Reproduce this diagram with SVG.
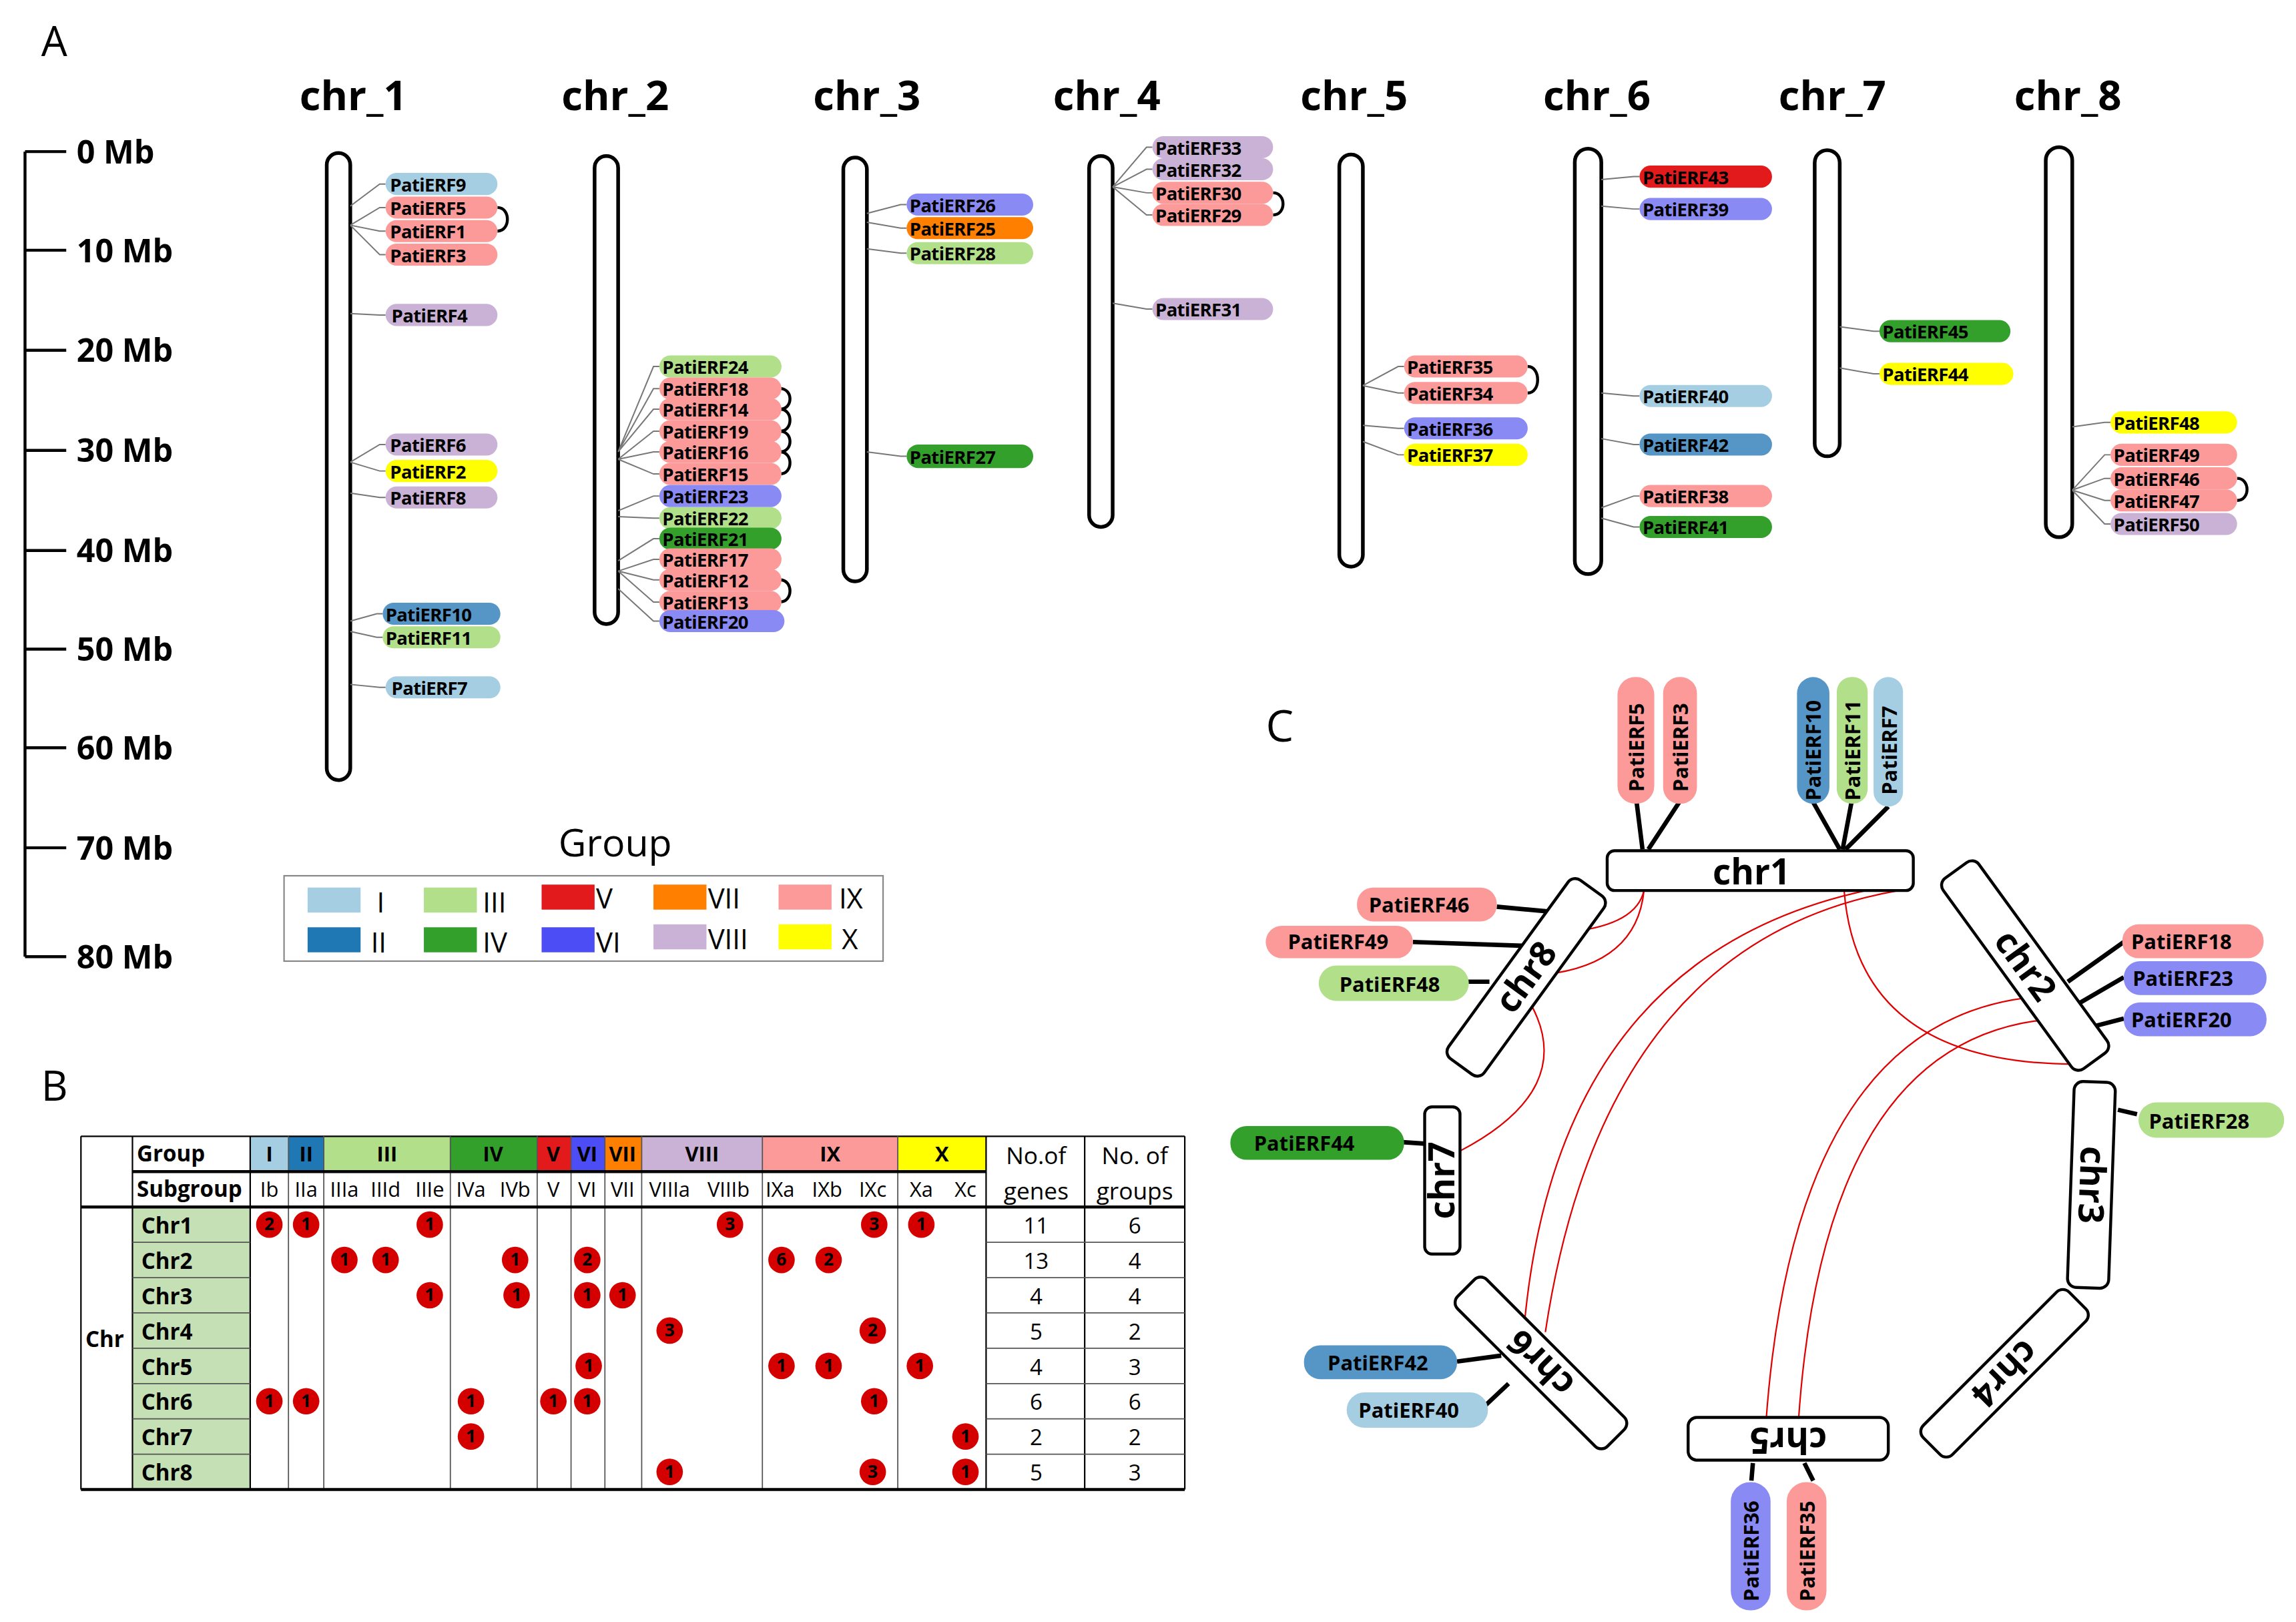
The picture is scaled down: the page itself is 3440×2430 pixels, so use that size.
<svg xmlns="http://www.w3.org/2000/svg" width="3440" height="2430" viewBox="0 0 3440 2430">
<style>
text{font-family:"Open Sans","Liberation Sans",sans-serif;fill:#000}
.b{font-weight:bold}
.chrA{fill:#fff;stroke:#000;stroke-width:2.5}
.pill text,.pt{font-weight:bold;font-size:12.5px;letter-spacing:-0.3px}
.ln{fill:none;stroke:#777;stroke-width:0.9}
.arc{fill:none;stroke:#000;stroke-width:2}
.I{fill:#a6cee3}.II{fill:#5596c6}.III{fill:#b2df8a}.IV{fill:#33a02c}.V{fill:#e31a1c}.VI{fill:#8a8af5}.VII{fill:#ff7f00}.VIII{fill:#cab2d6}.IX{fill:#fb9a99}.X{fill:#ffff00}
.tl{stroke:#000;stroke-width:1;fill:none}
.tg{stroke:#555;stroke-width:0.8;fill:none}
.dot{fill:#d40000}
.dn{fill:#fff;font-weight:bold;font-size:12px;text-anchor:middle}
.tc{font-size:15px;text-anchor:middle}
.cbox{fill:#fff;stroke:#000;stroke-width:2}
.cl{font-weight:bold;font-size:24px;text-anchor:middle}
.red{fill:none;stroke:#e00000;stroke-width:1}
.bk{stroke:#000;stroke-width:3;fill:none}
.cp{font-weight:bold;font-size:14px}
</style>
<rect width="3440" height="2430" fill="#fff"/>
<g transform="scale(2.2051)">
<!-- Panel A -->
<g id="panelA">
<text x="28" y="38" font-size="28">A</text>
<g id="scalebar">
<path d="M17,103 V650 M17,103 H45 M17,170 H45 M17,238 H45 M17,306 H45 M17,374 H45 M17,441 H45 M17,508 H45 M17,576 H45 M17,650 H45" stroke="#000" stroke-width="2" fill="none"/>
<g class="b" font-size="22">
<text x="52" y="111">0 Mb</text><text x="52" y="178">10 Mb</text><text x="52" y="246">20 Mb</text><text x="52" y="314">30 Mb</text><text x="52" y="382">40 Mb</text><text x="52" y="449">50 Mb</text><text x="52" y="516">60 Mb</text><text x="52" y="584">70 Mb</text><text x="52" y="658">80 Mb</text>
</g>
</g>
<g class="b" font-size="28" text-anchor="middle">
<text x="240" y="75">chr_1</text><text x="418" y="75">chr_2</text><text x="589" y="75">chr_3</text><text x="752" y="75">chr_4</text><text x="920" y="75">chr_5</text><text x="1085" y="75">chr_6</text><text x="1245" y="75">chr_7</text><text x="1405" y="75">chr_8</text>
</g>
<g id="chromosomesA">
<rect id="chr_1" class="chrA" x="222" y="104" width="16" height="426" rx="8"/>
<rect id="chr_2" class="chrA" x="404" y="106" width="16" height="318" rx="8"/>
<rect id="chr_3" class="chrA" x="573" y="107" width="16" height="288" rx="8"/>
<rect id="chr_4" class="chrA" x="740" y="106" width="16" height="252" rx="8"/>
<rect id="chr_5" class="chrA" x="910" y="105" width="16" height="280" rx="8"/>
<rect id="chr_6" class="chrA" x="1070" y="101" width="18" height="289" rx="9"/>
<rect id="chr_7" class="chrA" x="1233" y="102" width="17" height="208" rx="8.5"/>
<rect id="chr_8" class="chrA" x="1390" y="100" width="18" height="265" rx="9"/>
</g>
<g id="connectorsA">
<!-- chr1 -->
<path class="ln" d="M238,140 L258,125 H262 M238,153 L258,141 H262 M238,153 L258,157 H262 M238,153 L258,173 H262 M238,213 L258,214 H262 M238,314 L258,302 H262 M238,314 L258,320 H262 M238,335 L258,338 H262 M238,422 L256,417 H260 M238,429 L256,433 H260 M238,465 L258,467 H262"/>
<!-- chr2 -->
<path class="ln" d="M420,307 L444,249 H448 M420,307 L444,264 H448 M420,307 L444,278 H448 M420,312 L444,293 H448 M420,312 L444,307 H448 M420,312 L444,322 H448 M420,347 L444,337 H448 M420,351 L444,352 H448 M420,381 L444,366 H448 M420,388 L444,380 H448 M420,388 L444,394 H448 M420,388 L444,409 H448 M420,400 L444,422 H448"/>
<!-- chr3 -->
<path class="ln" d="M589,145 L612,139 H616 M589,151 L612,155 H616 M589,169 L612,172 H616 M589,307 L612,310 H616"/>
<!-- chr4 -->
<path class="ln" d="M756,127 L779,100 H783 M756,127 L779,115 H783 M756,127 L779,131 H783 M756,127 L779,146 H783 M756,206 L779,210 H783"/>
<!-- chr5 -->
<path class="ln" d="M926,262 L950,249 H954 M926,262 L950,267 H954 M926,289 L950,291 H954 M926,300 L950,309 H954"/>
<!-- chr6 -->
<path class="ln" d="M1088,122 L1110,120 H1114 M1088,140 L1110,142 H1114 M1088,267 L1110,269 H1114 M1088,298 L1110,302 H1114 M1088,345 L1110,337 H1114 M1088,352 L1110,358 H1114"/>
<!-- chr7 -->
<path class="ln" d="M1250,222 L1273,225 H1277 M1250,250 L1273,254 H1277"/>
<!-- chr8 -->
<path class="ln" d="M1408,290 L1430,287 H1434 M1408,333 L1430,309 H1434 M1408,333 L1430,325 H1434 M1408,333 L1430,340 H1434 M1408,333 L1430,356 H1434"/>
<!-- duplication arcs -->
<path class="arc" d="M338,141 C347,141 347,157 338,157 M530,264 C539,264 539,278 530,278 M530,278 C539,278 539,293 530,293 M530,293 C539,293 539,307 530,307 M530,307 C539,307 539,322 530,322 M530,394 C539,394 539,409 530,409 M865,131 C874,131 874,146 865,146 M1038,249 C1047,249 1047,267 1038,267 M1520,325 C1529,325 1529,340 1520,340"/>
</g>
<g id="genesA" class="pill">
<g id="a-PatiERF9"><rect class="I" x="262" y="117.5" width="76" height="15" rx="7.5"/><text x="265" y="130">PatiERF9</text></g>
<g id="a-PatiERF5"><rect class="IX" x="262" y="133.5" width="76" height="15" rx="7.5"/><text x="265" y="146">PatiERF5</text></g>
<g id="a-PatiERF1"><rect class="IX" x="262" y="149.5" width="76" height="15" rx="7.5"/><text x="265" y="162">PatiERF1</text></g>
<g id="a-PatiERF3"><rect class="IX" x="262" y="165.5" width="76" height="15" rx="7.5"/><text x="265" y="178">PatiERF3</text></g>
<g id="a-PatiERF4"><rect class="VIII" x="262" y="206.5" width="76" height="15" rx="7.5"/><text x="266" y="219">PatiERF4</text></g>
<g id="a-PatiERF6"><rect class="VIII" x="262" y="294.5" width="76" height="15" rx="7.5"/><text x="265" y="307">PatiERF6</text></g>
<g id="a-PatiERF2"><rect class="X" x="262" y="312.5" width="76" height="15" rx="7.5"/><text x="265" y="325">PatiERF2</text></g>
<g id="a-PatiERF8"><rect class="VIII" x="262" y="330.5" width="76" height="15" rx="7.5"/><text x="265" y="343">PatiERF8</text></g>
<g id="a-PatiERF10"><rect class="II" x="260" y="409.5" width="80" height="15" rx="7.5"/><text x="262" y="422">PatiERF10</text></g>
<g id="a-PatiERF11"><rect class="III" x="260" y="425.5" width="80" height="15" rx="7.5"/><text x="262" y="438">PatiERF11</text></g>
<g id="a-PatiERF7"><rect class="I" x="262" y="459.5" width="78" height="15" rx="7.5"/><text x="266" y="472">PatiERF7</text></g>

<g id="a-PatiERF24"><rect class="III" x="448" y="241.5" width="83" height="15" rx="7.5"/><text x="450" y="254">PatiERF24</text></g>
<g id="a-PatiERF18"><rect class="IX" x="448" y="256.5" width="83" height="15" rx="7.5"/><text x="450" y="269">PatiERF18</text></g>
<g id="a-PatiERF14"><rect class="IX" x="448" y="270.5" width="83" height="15" rx="7.5"/><text x="450" y="283">PatiERF14</text></g>
<g id="a-PatiERF19"><rect class="IX" x="448" y="285.5" width="83" height="15" rx="7.5"/><text x="450" y="298">PatiERF19</text></g>
<g id="a-PatiERF16"><rect class="IX" x="448" y="299.5" width="83" height="15" rx="7.5"/><text x="450" y="312">PatiERF16</text></g>
<g id="a-PatiERF15"><rect class="IX" x="448" y="314.5" width="83" height="15" rx="7.5"/><text x="450" y="327">PatiERF15</text></g>
<g id="a-PatiERF23"><rect class="VI" x="448" y="329.5" width="83" height="15" rx="7.5"/><text x="450" y="342">PatiERF23</text></g>
<g id="a-PatiERF22"><rect class="III" x="448" y="344.5" width="83" height="15" rx="7.5"/><text x="450" y="357">PatiERF22</text></g>
<g id="a-PatiERF21"><rect class="IV" x="448" y="358.5" width="83" height="15" rx="7.5"/><text x="450" y="371">PatiERF21</text></g>
<g id="a-PatiERF17"><rect class="IX" x="448" y="372.5" width="83" height="15" rx="7.5"/><text x="450" y="385">PatiERF17</text></g>
<g id="a-PatiERF12"><rect class="IX" x="448" y="386.5" width="83" height="15" rx="7.5"/><text x="450" y="399">PatiERF12</text></g>
<g id="a-PatiERF13"><rect class="IX" x="448" y="401.5" width="83" height="15" rx="7.5"/><text x="450" y="414">PatiERF13</text></g>
<g id="a-PatiERF20"><rect class="VI" x="448" y="414.5" width="85" height="15" rx="7.5"/><text x="450" y="427">PatiERF20</text></g>

<g id="a-PatiERF26"><rect class="VI" x="616" y="131.5" width="86" height="15" rx="7.5"/><text x="618" y="144">PatiERF26</text></g>
<g id="a-PatiERF25"><rect class="VII" x="616" y="147.5" width="86" height="15" rx="7.5"/><text x="618" y="160">PatiERF25</text></g>
<g id="a-PatiERF28"><rect class="III" x="616" y="164.5" width="86" height="15" rx="7.5"/><text x="618" y="177">PatiERF28</text></g>
<g id="a-PatiERF27"><rect class="IV" x="616" y="302" width="86" height="16" rx="8"/><text x="618" y="315">PatiERF27</text></g>

<g id="a-PatiERF33"><rect class="VIII" x="783" y="92.5" width="82" height="15" rx="7.5"/><text x="785" y="105">PatiERF33</text></g>
<g id="a-PatiERF32"><rect class="VIII" x="783" y="107.5" width="82" height="15" rx="7.5"/><text x="785" y="120">PatiERF32</text></g>
<g id="a-PatiERF30"><rect class="IX" x="783" y="123.5" width="82" height="15" rx="7.5"/><text x="785" y="136">PatiERF30</text></g>
<g id="a-PatiERF29"><rect class="IX" x="783" y="138.5" width="82" height="15" rx="7.5"/><text x="785" y="151">PatiERF29</text></g>
<g id="a-PatiERF31"><rect class="VIII" x="783" y="202.5" width="82" height="15" rx="7.5"/><text x="785" y="215">PatiERF31</text></g>

<g id="a-PatiERF35"><rect class="IX" x="954" y="241.5" width="84" height="15" rx="7.5"/><text x="956" y="254">PatiERF35</text></g>
<g id="a-PatiERF34"><rect class="IX" x="954" y="259.5" width="84" height="15" rx="7.5"/><text x="956" y="272">PatiERF34</text></g>
<g id="a-PatiERF36"><rect class="VI" x="954" y="283.5" width="84" height="15" rx="7.5"/><text x="956" y="296">PatiERF36</text></g>
<g id="a-PatiERF37"><rect class="X" x="954" y="301.5" width="84" height="15" rx="7.5"/><text x="956" y="314">PatiERF37</text></g>

<g id="a-PatiERF43"><rect class="V" x="1114" y="112.5" width="90" height="15" rx="7.5"/><text x="1116" y="125">PatiERF43</text></g>
<g id="a-PatiERF39"><rect class="VI" x="1114" y="134.5" width="90" height="15" rx="7.5"/><text x="1116" y="147">PatiERF39</text></g>
<g id="a-PatiERF40"><rect class="I" x="1114" y="261.5" width="90" height="15" rx="7.5"/><text x="1116" y="274">PatiERF40</text></g>
<g id="a-PatiERF42"><rect class="II" x="1114" y="294.5" width="90" height="15" rx="7.5"/><text x="1116" y="307">PatiERF42</text></g>
<g id="a-PatiERF38"><rect class="IX" x="1114" y="329.5" width="90" height="15" rx="7.5"/><text x="1116" y="342">PatiERF38</text></g>
<g id="a-PatiERF41"><rect class="IV" x="1114" y="350.5" width="90" height="15" rx="7.5"/><text x="1116" y="363">PatiERF41</text></g>

<g id="a-PatiERF45"><rect class="IV" x="1277" y="217.5" width="89" height="15" rx="7.5"/><text x="1279" y="230">PatiERF45</text></g>
<g id="a-PatiERF44"><rect class="X" x="1277" y="246.5" width="91" height="15" rx="7.5"/><text x="1279" y="259">PatiERF44</text></g>

<g id="a-PatiERF48"><rect class="X" x="1434" y="279.5" width="86" height="15" rx="7.5"/><text x="1436" y="292">PatiERF48</text></g>
<g id="a-PatiERF49"><rect class="IX" x="1434" y="301.5" width="86" height="15" rx="7.5"/><text x="1436" y="314">PatiERF49</text></g>
<g id="a-PatiERF46"><rect class="IX" x="1434" y="317.5" width="86" height="15" rx="7.5"/><text x="1436" y="330">PatiERF46</text></g>
<g id="a-PatiERF47"><rect class="IX" x="1434" y="332.5" width="86" height="15" rx="7.5"/><text x="1436" y="345">PatiERF47</text></g>
<g id="a-PatiERF50"><rect class="VIII" x="1434" y="348.5" width="86" height="15" rx="7.5"/><text x="1436" y="361">PatiERF50</text></g>
</g>
<g id="legend">
<text x="418" y="582" font-size="26" text-anchor="middle">Group</text>
<rect x="193" y="595" width="407" height="58" fill="#fff" stroke="#888" stroke-width="1"/>
<g font-size="19">
<rect class="I" x="209" y="603" width="36" height="17"/><text x="256" y="620">I</text>
<rect fill="#1f78b4" x="209" y="630" width="36" height="17"/><text x="252" y="647">II</text>
<rect class="III" x="288" y="603" width="36" height="17"/><text x="328" y="620">III</text>
<rect class="IV" x="288" y="630" width="36" height="17"/><text x="328" y="647">IV</text>
<rect class="V" x="368" y="601" width="36" height="17"/><text x="405" y="617">V</text>
<rect fill="#4d4df5" x="368" y="630" width="36" height="17"/><text x="405" y="647">VI</text>
<rect class="VII" x="444" y="601" width="36" height="17"/><text x="481" y="617">VII</text>
<rect class="VIII" x="444" y="628" width="36" height="17"/><text x="481" y="645">VIII</text>
<rect class="IX" x="529" y="601" width="36" height="17"/><text x="570" y="617">IX</text>
<rect class="X" x="529" y="628" width="36" height="17"/><text x="572" y="645">X</text>
</g>
</g>
</g>

<!-- Panel B -->
<g id="panelB">
<text x="28" y="748" font-size="28">B</text>
<rect x="90" y="820" width="80" height="192" fill="#c5e0b4"/>
<rect class="I" x="170" y="772" width="26" height="24"/>
<rect fill="#1f78b4" x="196" y="772" width="24" height="24"/>
<rect class="III" x="220" y="772" width="86" height="24"/>
<rect class="IV" x="306" y="772" width="59" height="24"/>
<rect class="V" x="365" y="772" width="23" height="24"/>
<rect fill="#4d4df5" x="388" y="772" width="23" height="24"/>
<rect class="VII" x="411" y="772" width="25" height="24"/>
<rect class="VIII" x="436" y="772" width="82" height="24"/>
<rect class="IX" x="518" y="772" width="92" height="24"/>
<rect class="X" x="610" y="772" width="60" height="24"/>
<path class="tl" d="M55,772 H805 M55,772 V1012 M90,772 V1012 M170,772 V1012 M670,772 V1012 M737,772 V1012 M805,772 V1012"/>
<path class="tg" d="M196,772 V1012 M220,772 V1012 M306,772 V1012 M365,772 V1012 M388,772 V1012 M411,772 V1012 M436,772 V1012 M518,772 V1012 M610,772 V1012"/>
<path stroke="#000" stroke-width="2" d="M90,796 H670 M55,820 H805 M55,1012 H805"/>
<path class="tg" stroke-width="1.2" d="M90,844 H170 M90,868 H170 M90,892 H170 M90,916 H170 M90,940 H170 M90,964 H170 M90,988 H170 M670,844 H805 M670,868 H805 M670,892 H805 M670,916 H805 M670,940 H805 M670,964 H805 M670,988 H805"/>
<g class="b" font-size="15">
<text x="93" y="789">Group</text><text x="93" y="813">Subgroup</text>
<text x="58" y="915">Chr</text>
<text x="96" y="838">Chr1</text><text x="96" y="862">Chr2</text><text x="96" y="886">Chr3</text><text x="96" y="910">Chr4</text><text x="96" y="934">Chr5</text><text x="96" y="958">Chr6</text><text x="96" y="982">Chr7</text><text x="96" y="1006">Chr8</text>
</g>
<g class="b" font-size="14" text-anchor="middle">
<text x="183" y="789">I</text><text x="208" y="789">II</text><text x="263" y="789">III</text><text x="335" y="789">IV</text><text x="376" y="789">V</text><text x="399" y="789">VI</text><text x="423" y="789">VII</text><text x="477" y="789">VIII</text><text x="564" y="789">IX</text><text x="640" y="789">X</text>
</g>
<g font-size="14" text-anchor="middle">
<text x="183" y="813">Ib</text><text x="208" y="813">IIa</text><text x="234" y="813">IIIa</text><text x="262" y="813">IIId</text><text x="292" y="813">IIIe</text><text x="320" y="813">IVa</text><text x="350" y="813">IVb</text><text x="376" y="813">V</text><text x="399" y="813">VI</text><text x="423" y="813">VII</text><text x="455" y="813">VIIIa</text><text x="495" y="813">VIIIb</text><text x="530" y="813">IXa</text><text x="562" y="813">IXb</text><text x="593" y="813">IXc</text><text x="626" y="813">Xa</text><text x="656" y="813">Xc</text>
</g>
<g font-size="16" text-anchor="middle">
<text x="704" y="791">No.of</text><text x="704" y="815">genes</text>
<text x="771" y="791">No. of</text><text x="771" y="815">groups</text>
</g>
<g class="tc">
<text x="704" y="838">11</text><text x="771" y="838">6</text>
<text x="704" y="862">13</text><text x="771" y="862">4</text>
<text x="704" y="886">4</text><text x="771" y="886">4</text>
<text x="704" y="910">5</text><text x="771" y="910">2</text>
<text x="704" y="934">4</text><text x="771" y="934">3</text>
<text x="704" y="958">6</text><text x="771" y="958">6</text>
<text x="704" y="982">2</text><text x="771" y="982">2</text>
<text x="704" y="1006">5</text><text x="771" y="1006">3</text>
</g>
<g id="counts">
<g class="dot">
<circle cx="183" cy="832" r="9"/><circle cx="208" cy="832" r="9"/><circle cx="292" cy="832" r="9"/><circle cx="496" cy="832" r="9"/><circle cx="594" cy="832" r="9"/><circle cx="626" cy="832" r="9"/>
<circle cx="234" cy="856" r="9"/><circle cx="262" cy="856" r="9"/><circle cx="350" cy="856" r="9"/><circle cx="399" cy="856" r="9"/><circle cx="531" cy="856" r="9"/><circle cx="563" cy="856" r="9"/>
<circle cx="292" cy="880" r="9"/><circle cx="351" cy="880" r="9"/><circle cx="399" cy="880" r="9"/><circle cx="423" cy="880" r="9"/>
<circle cx="455" cy="904" r="9"/><circle cx="593" cy="904" r="9"/>
<circle cx="400" cy="928" r="9"/><circle cx="531" cy="928" r="9"/><circle cx="563" cy="928" r="9"/><circle cx="625" cy="928" r="9"/>
<circle cx="183" cy="952" r="9"/><circle cx="208" cy="952" r="9"/><circle cx="320" cy="952" r="9"/><circle cx="376" cy="952" r="9"/><circle cx="399" cy="952" r="9"/><circle cx="594" cy="952" r="9"/>
<circle cx="320" cy="976" r="9"/><circle cx="656" cy="976" r="9"/>
<circle cx="455" cy="1000" r="9"/><circle cx="593" cy="1000" r="9"/><circle cx="656" cy="1000" r="9"/>
</g>
<g class="dn">
<text x="183" y="836">2</text><text x="208" y="836">1</text><text x="292" y="836">1</text><text x="496" y="836">3</text><text x="594" y="836">3</text><text x="626" y="836">1</text>
<text x="234" y="860">1</text><text x="262" y="860">1</text><text x="350" y="860">1</text><text x="399" y="860">2</text><text x="531" y="860">6</text><text x="563" y="860">2</text>
<text x="292" y="884">1</text><text x="351" y="884">1</text><text x="399" y="884">1</text><text x="423" y="884">1</text>
<text x="455" y="908">3</text><text x="593" y="908">2</text>
<text x="400" y="932">1</text><text x="531" y="932">1</text><text x="563" y="932">1</text><text x="625" y="932">1</text>
<text x="183" y="956">1</text><text x="208" y="956">1</text><text x="320" y="956">1</text><text x="376" y="956">1</text><text x="399" y="956">1</text><text x="594" y="956">1</text>
<text x="320" y="980">1</text><text x="656" y="980">1</text>
<text x="455" y="1004">1</text><text x="593" y="1004">3</text><text x="656" y="1004">1</text>
</g>
</g>
</g>

<!-- Panel C -->
<g id="panelC">
<text x="860" y="504" font-size="30">C</text>
<g id="connectorsC">
<path class="red" d="M1117,605 Q1112,628 1068,633"/>
<path class="red" d="M1117,605 Q1112,655 1050,662"/>
<path class="red" d="M1040,682 Q1072,740 992,782"/>
<path class="red" d="M1268,605 Q1060,650 1036,897"/>
<path class="red" d="M1290,605 Q1090,640 1050,905"/>
<path class="red" d="M1253,605 Q1262,722 1408,723"/>
<path class="red" d="M1386,677 Q1220,690 1200,965"/>
<path class="red" d="M1400,692 Q1240,700 1222,965"/>
<path class="bk" d="M1112,545 L1116,577 M1141,545 L1120,577 M1232,545 L1250,577 M1258,545 L1252,577 M1283,548 L1254,577"/>
<path class="bk" d="M1443,640 L1405,667 M1443,664 L1412,682 M1443,692 L1420,698"/>
<path class="bk" d="M1439,754 L1452,757"/>
<path class="bk" d="M1191,994 L1190,1006 M1226,994 L1232,1006"/>
<path class="bk" d="M990,925 L1020,921 M1008,956 L1025,940"/>
<path class="bk" d="M953,776 L968,777"/>
<path class="bk" d="M1017,616 L1060,620 M960,640 L1047,643 M997,667 L1012,667"/>
</g>
<g id="c-chr1"><rect class="cbox" x="1092" y="578" width="208" height="27" rx="5"/><text class="cl" x="1190" y="601">chr1</text></g>
<g id="c-chr2" transform="translate(1376,656) rotate(54)"><rect class="cbox" x="-80" y="-15" width="160" height="30" rx="6"/><text class="cl" x="0" y="8">chr2</text></g>
<g id="c-chr3" transform="translate(1421,805) rotate(92)"><rect class="cbox" x="-70" y="-14" width="140" height="28" rx="6"/><text class="cl" x="0" y="8">chr3</text></g>
<g id="c-chr4" transform="translate(1362,933) rotate(135)"><rect class="cbox" x="-70" y="-14" width="140" height="28" rx="6"/><text class="cl" x="0" y="8">chr4</text></g>
<g id="c-chr5" transform="translate(1215,978) rotate(180)"><rect class="cbox" x="-68" y="-14" width="136" height="29" rx="6"/><text class="cl" x="0" y="8">chr5</text></g>
<g id="c-chr6" transform="translate(1047,926) rotate(225)"><rect class="cbox" x="-72" y="-14" width="144" height="28" rx="6"/><text class="cl" x="0" y="8">chr6</text></g>
<g id="c-chr7" transform="translate(980,802) rotate(-90)"><rect class="cbox" x="-50" y="-12" width="100" height="24" rx="5"/><text class="cl" x="0" y="8">chr7</text></g>
<g id="c-chr8" transform="translate(1037,664) rotate(-54)"><rect class="cbox" x="-75" y="-15" width="150" height="30" rx="6"/><text class="cl" x="0" y="8">chr8</text></g>
<g class="cp">
<g id="c-PatiERF5"><rect class="IX" x="1099" y="460" width="25" height="86" rx="12"/><text transform="translate(1117,538) rotate(-90)">PatiERF5</text></g>
<g id="c-PatiERF3"><rect class="IX" x="1130" y="460" width="23" height="86" rx="11"/><text transform="translate(1147,538) rotate(-90)">PatiERF3</text></g>
<g id="c-PatiERF10"><rect class="II" x="1221" y="460" width="22" height="86" rx="11"/><text transform="translate(1237,544) rotate(-90)">PatiERF10</text></g>
<g id="c-PatiERF11"><rect class="III" x="1248" y="460" width="21" height="86" rx="10"/><text transform="translate(1264,544) rotate(-90)">PatiERF11</text></g>
<g id="c-PatiERF7"><rect class="I" x="1273" y="460" width="20" height="88" rx="10"/><text transform="translate(1289,540) rotate(-90)">PatiERF7</text></g>
<g id="c-PatiERF18"><rect class="IX" x="1442" y="628" width="96" height="23" rx="11"/><text x="1448" y="645">PatiERF18</text></g>
<g id="c-PatiERF23"><rect class="VI" x="1443" y="653" width="97" height="23" rx="11"/><text x="1449" y="670">PatiERF23</text></g>
<g id="c-PatiERF20"><rect class="VI" x="1443" y="681" width="97" height="23" rx="11"/><text x="1448" y="698">PatiERF20</text></g>
<g id="c-PatiERF28"><rect class="III" x="1453" y="749" width="99" height="24" rx="12"/><text x="1460" y="767">PatiERF28</text></g>
<g id="c-PatiERF36"><rect class="VI" x="1176" y="1007" width="27" height="87" rx="13"/><text transform="translate(1195,1088) rotate(-90)">PatiERF36</text></g>
<g id="c-PatiERF35"><rect class="IX" x="1214" y="1007" width="27" height="87" rx="13"/><text transform="translate(1233,1088) rotate(-90)">PatiERF35</text></g>
<g id="c-PatiERF42"><rect class="II" x="886" y="914" width="104" height="23" rx="11"/><text x="902" y="931">PatiERF42</text></g>
<g id="c-PatiERF40"><rect class="I" x="915" y="946" width="96" height="24" rx="12"/><text x="923" y="963">PatiERF40</text></g>
<g id="c-PatiERF44"><rect class="IV" x="836" y="765" width="118" height="23" rx="11"/><text x="852" y="782">PatiERF44</text></g>
<g id="c-PatiERF46"><rect class="IX" x="922" y="603" width="95" height="23" rx="11"/><text x="930" y="620">PatiERF46</text></g>
<g id="c-PatiERF49"><rect class="IX" x="860" y="629" width="100" height="22" rx="11"/><text x="875" y="645">PatiERF49</text></g>
<g id="c-PatiERF48"><rect class="III" x="896" y="656" width="102" height="24" rx="12"/><text x="910" y="674">PatiERF48</text></g>
</g>
</g>
</g>
</svg>
